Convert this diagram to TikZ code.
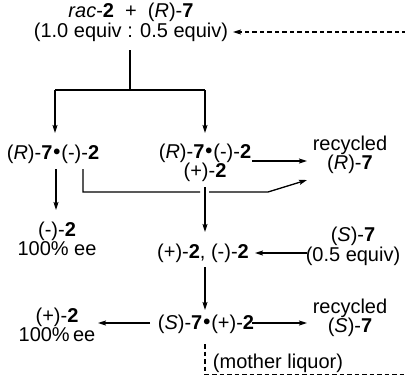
\documentclass[tikz,border=0pt]{standalone}
\usepackage{fontspec}
\setmainfont{Liberation Sans}
\usetikzlibrary{calc,arrows.meta}

% compound numbers in bold, stereodescriptors in italics
\newcommand\cpd[1]{\textbf{#1}}
\newcommand\cfg[1]{(\textit{#1})}
\newcommand\salt{\kern1pt\raisebox{0.5pt}{\textbf{\textbullet}}\kern1pt}

\tikzset{
  chem/.style={inner sep=0pt, align=center, font=\fontsize{20}{19.5}\selectfont},
  flow/.style={line width=1.3pt, -{Stealth[length=8pt,width=5pt,inset=1.5pt]}},
  plainline/.style={line width=1.3pt},
  liquor/.style={line width=1.1pt, dash pattern=on 4.5pt off 3pt,
    -{Stealth[length=8pt,width=5pt,inset=1.5pt]}},
}

\begin{document}
\begin{tikzpicture}[x=1pt,y=-1pt]
  \useasboundingbox (0,0) rectangle (405,376);
  \clip (0,0) rectangle (405,376);

  % starting mixture
  \node[chem] (top) at (131,22.5) {\textit{rac}-\cpd{2}\ \ +\ \ \cfg{R}-\cpd{7}\\(1.0 equiv : 0.5 equiv)};

  % first resolution
  \node[chem] (L1) at (53,154) {\cfg{R}-\cpd{7}\salt(-)-\cpd{2}};
  \node[chem] (M1) at (205,163) {\cfg{R}-\cpd{7}\salt(-)-\cpd{2}\\(+)-\cpd{2}};
  \node[chem] (rec1) at (350,155) {recycled\\\cfg{R}-\cpd{7}};
  \node[chem] (L2) at (57,239) {(-)-\cpd{2}\\100\% ee};

  % second resolution
  \node[chem] (M2) at (203,253) {(+)-\cpd{2}, (-)-\cpd{2}};
  \node[chem] (S7) at (353,246.5) {\cfg{S}-\cpd{7}\\(0.5 equiv)};
  \node[chem] (M3) at (206,324) {\cfg{S}-\cpd{7}\salt(+)-\cpd{2}};
  \node[chem] (L3) at (57,325) {(+)-\cpd{2}\\100\%\,ee};
  \node[chem] (rec2) at (350,318) {recycled\\\cfg{S}-\cpd{7}};
  \node[chem] (ml) at (278,363) {(mother liquor)};

  % branch points
  \coordinate (split) at ($(top)+(-1,67.5)$);
  \coordinate (bl) at (55,90);
  \coordinate (br) at (205,90);

  \draw[plainline] ($(top)+(-1,27.5)$) -- (split);
  \draw[plainline] (bl) -- (br);
  \draw[flow] (bl) -- (bl |- {$(L1)+(0,-21)$});
  \draw[flow] (br) -- (br |- {$(M1)+(0,-30)$});

  \draw[flow] ($(L1)+(3,15)$) -- ($(L2)+(-1,-29)$);
  \draw[flow] ($(L1)+(30,15)$) |- (200,192) (209,192) -- (268,192) -- ($(rec1)+(-43,25)$);
  \draw[flow] ($(M1)+(47,-2)$) -- ($(rec1)+(-43,6)$);

  \draw[flow] ($(M1)+(0,24)$) -- ($(M2)+(2,-21)$);
  \draw[flow] ($(S7)+(-46,6.5)$) -- ($(M2)+(52,0)$);
  \draw[flow] ($(M2)+(2,14)$) -- ($(M3)+(-1,-14)$);
  \draw[flow] ($(M3)+(-56,-1)$) -- ($(L3)+(41,-2)$);
  \draw[flow] ($(M3)+(46,-1)$) -- ($(rec2)+(-43,5)$);

  % mother liquor returned to the start
  \draw[liquor] ($(M3)+(-1,20)$) |- (408,374.5) |- ($(top)+(102,9.5)$);
\end{tikzpicture}
\end{document}
